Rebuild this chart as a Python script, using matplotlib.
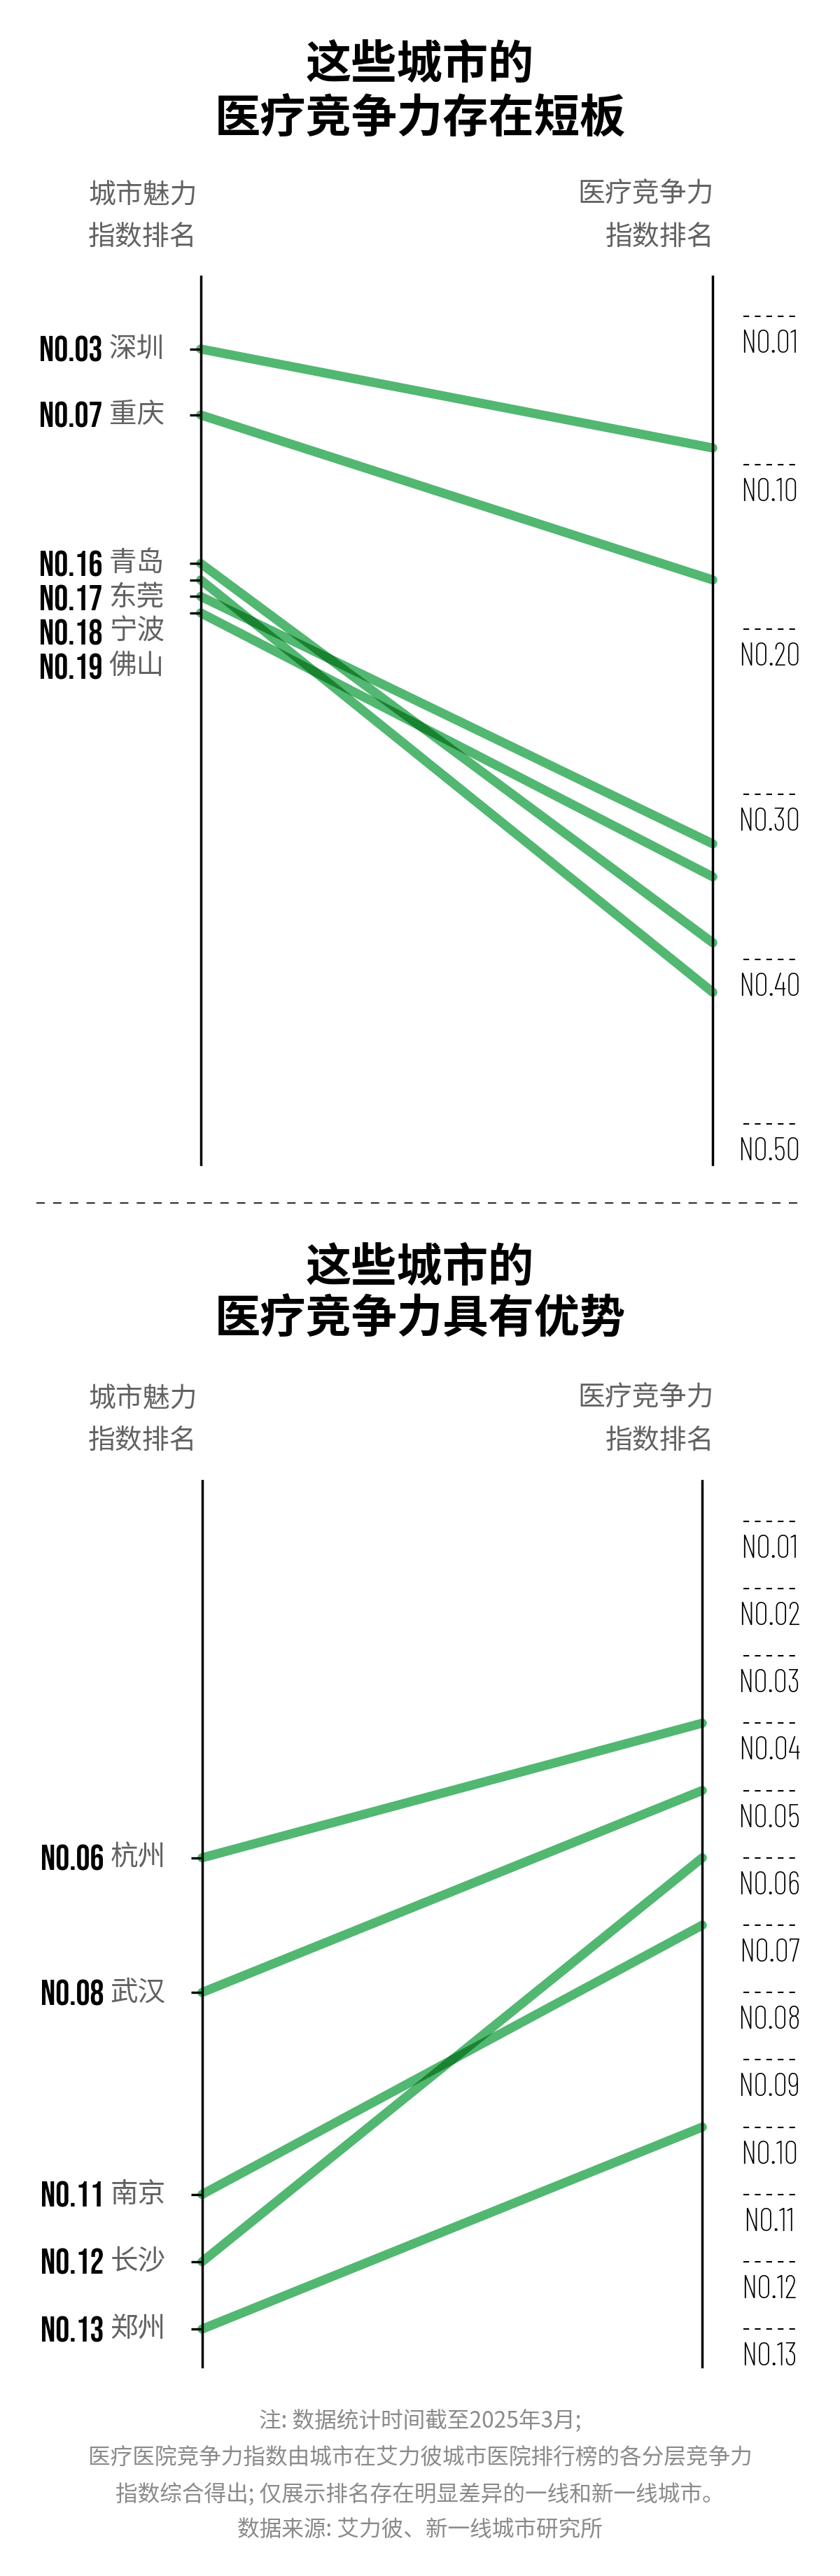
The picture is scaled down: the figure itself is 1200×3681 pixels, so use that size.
import matplotlib
matplotlib.use("Agg")
import matplotlib.pyplot as plt
import matplotlib.transforms as mtransforms
from matplotlib import font_manager
from matplotlib.lines import Line2D
from matplotlib.patches import Polygon
import numpy as np

# --- data -----------------------------------------------------------------
# top panel: cities whose medical ranking lags their charm ranking
weak_cities = ["深圳", "重庆", "青岛", "东莞", "宁波", "佛山"]
weak_charm = [3, 7, 16, 17, 18, 19]
weak_medical = [9, 17, 39, 42, 33, 35]
weak_ticks = [1, 10, 20, 30, 40, 50]

# bottom panel: cities whose medical ranking beats their charm ranking
strong_cities = ["杭州", "武汉", "南京", "长沙", "郑州"]
strong_charm = [6, 8, 11, 12, 13]
strong_medical = [4, 5, 7, 6, 10]
strong_ticks = [1, 2, 3, 4, 5, 6, 7, 8, 9, 10, 11, 12, 13]

titles = [("这些城市的", "医疗竞争力存在短板"), ("这些城市的", "医疗竞争力具有优势")]
left_head = ("城市魅力", "指数排名")
right_head = ("医疗竞争力", "指数排名")
notes = [
    "注: 数据统计时间截至2025年3月;",
    "医疗医院竞争力指数由城市在艾力彼城市医院排行榜的各分层竞争力",
    "指数综合得出; 仅展示排名存在明显差异的一线和新一线城市。",
    "数据来源: 艾力彼、新一线城市研究所",
]

# --- style ----------------------------------------------------------------
DPI = 100
W, H = 1200, 3681
GREEN = "#52b771"
DARK = "#1a8332"
GREY = "#626262"
LW = 9.4
CJK = "Noto Sans CJK SC"

names = {f.name for f in font_manager.fontManager.ttflist}


def pick(*cands):
    return next((n for n in cands if n in names), "DejaVu Sans")


THIN = pick("Barlow Condensed", "Roboto Condensed", "Liberation Sans Narrow")
BOLD = pick("Bebas Neue", "Barlow Condensed", "Roboto Condensed")
cjk_w = sorted({f.weight for f in font_manager.fontManager.ttflist if f.name == CJK})
LIGHT = 300 if any(isinstance(w, int) and w < 400 for w in cjk_w) else "normal"

plt.rcParams["font.family"] = [CJK, "DejaVu Sans"]
plt.rcParams["lines.scale_dashes"] = False

fig = plt.figure(figsize=(W / DPI, H / DPI), dpi=DPI)
fig.patch.set_facecolor("white")


def fy(px):
    return 1 - px / H


def strip_overlap(a, b, w):
    # overlap of two thick straight strokes (display coords) -> parallelogram
    p1, p2 = a
    q1, q2 = b
    d1 = (p2 - p1) / np.linalg.norm(p2 - p1)
    d2 = (q2 - q1) / np.linalg.norm(q2 - q1)
    n1 = np.array([-d1[1], d1[0]])
    n2 = np.array([-d2[1], d2[0]])
    M = np.array([n1, n2])
    if abs(np.linalg.det(M)) < 1e-6:
        return None
    c1, c2 = n1 @ p1, n2 @ q1
    x0 = np.linalg.solve(M, [c1, c2])
    if not (min(p1[0], p2[0]) < x0[0] < max(p1[0], p2[0])):
        return None
    h = w / 2
    return np.array([np.linalg.solve(M, [c1 + s1 * h, c2 + s2 * h])
                     for s1, s2 in [(1, 1), (1, -1), (-1, -1), (-1, 1)]])


def spread(ys, gap):
    out = []
    for y in ys:
        out.append(y if not out else max(y, out[-1] + gap))
    return out


def draw_panel(left, right, top, bottom, ylim, cities, charm, medical, ticks,
               title, title_y, head_y):
    ax = fig.add_axes([left / W, fy(bottom), (right - left) / W, (bottom - top) / H])
    ax.set_xlim(0, 1)
    ax.set_ylim(*ylim)
    ax.set_facecolor("none")
    for s in ["top", "bottom"]:
        ax.spines[s].set_visible(False)
    for s in ["left", "right"]:
        ax.spines[s].set_linewidth(2.5)
    ax.set_axisbelow(False)
    ax.set_xticks([])
    ax.set_yticks(charm)
    ax.tick_params(axis="y", direction="out", length=11.5, width=2.4,
                   left=True, right=False, labelleft=False)

    for c, m in zip(charm, medical):
        ax.plot([0, 1], [c, m], color=GREEN, lw=LW, solid_capstyle="round",
                zorder=2, clip_on=False)

    # darker where two strokes overlap
    segs = [ax.transData.transform([(0, c), (1, m)]) for c, m in zip(charm, medical)]
    wpx = LW * DPI / 72
    for i in range(len(segs)):
        for j in range(i + 1, len(segs)):
            poly = strip_overlap(segs[i], segs[j], wpx)
            if poly is not None:
                ax.add_patch(Polygon(poly, closed=True, fc=DARK, ec="none",
                                     transform=mtransforms.IdentityTransform(),
                                     zorder=2.1))

    figx = mtransforms.blended_transform_factory(fig.transFigure, ax.transData)

    # right axis: dashed markers with rank labels underneath
    ax.hlines(ticks, 1062 / W, 1136 / W, transform=figx, colors="black",
              lw=1.5, linestyles=[(0, (5.9, 5.9))], clip_on=False)
    down = mtransforms.ScaledTranslation(0, -40 / DPI, fig.dpi_scale_trans)
    for t in ticks:
        ax.text(1099 / W, t, f"NO.{t:02d}", transform=figx + down, ha="center",
                va="center", family=THIN, weight=275, fontsize=33, color="black")

    # left axis labels, spread apart where ranks are crowded
    px_per_rank = (bottom - top) / (ylim[0] - ylim[1])
    ys = spread([(c - ylim[1]) * px_per_rank for c in charm], 49)
    for c, city, ypx in zip(charm, cities, ys):
        yr = ylim[1] + ypx / px_per_rank
        ax.text((left - 140) / W, yr, f"NO.{c:02d}", transform=figx, ha="right",
                va="center", family=BOLD, fontsize=36, color="black")
        ax.text((left - 131) / W, yr, city, transform=figx, ha="left",
                va="center", fontsize=28.5, weight=LIGHT, color=GREY)

    fig.text(0.5, fy(title_y[0]), title[0], ha="center", va="center",
             fontsize=47, weight="bold", color="black")
    fig.text(0.5, fy(title_y[1]), title[1], ha="center", va="center",
             fontsize=47, weight="bold", color="black")
    for k in range(2):
        fig.text(126 / W, fy(head_y[k]), left_head[k], ha="left", va="center",
                 fontsize=28, weight=LIGHT, color=GREY)
        fig.text(1020 / W, fy(head_y[k]), right_head[k], ha="right", va="center",
                 fontsize=28, weight=LIGHT, color=GREY)
    return ax


ax1 = draw_panel(286.7, 1018.3, 395, 1664, (52.44, -1.40), weak_cities, weak_charm,
                 weak_medical, weak_ticks, titles[0], (92, 169), (278, 340))
ax2 = draw_panel(288.7, 1003.3, 2116, 3382, (13.56, 0.40), strong_cities, strong_charm,
                 strong_medical, strong_ticks, titles[1], (1811, 1884), (1998, 2060))

fig.add_artist(Line2D([52 / W, 1143 / W], [fy(1719)] * 2, transform=fig.transFigure,
                      color="#333333", lw=1.6, linestyle=(0, (8.6, 8.6))))

for k, line in enumerate(notes):
    fig.text(0.5, fy(3460 + 52 * k), line, ha="center", va="center",
             fontsize=22.8, weight=LIGHT, color="#8a8a8a")

fig.savefig("out.png", dpi=DPI, facecolor="white")
